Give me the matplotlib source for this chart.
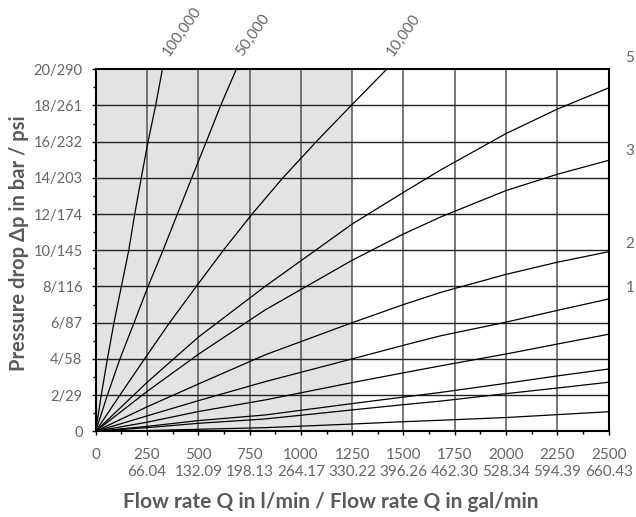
import numpy as np
import matplotlib
matplotlib.use("Agg")
import matplotlib.pyplot as plt
from matplotlib.ticker import MultipleLocator

plt.rcParams['font.family'] = ['Lato', 'DejaVu Sans']

# Curves: flow rate Q (l/min) vs pressure drop (bar)
q_100k = [0, 27, 57, 89, 125, 161, 190, 222, 255, 292, 325]
dp_100k = [0, 2, 4, 6, 8, 10, 12, 14, 16, 18, 20]
q_50k = [0, 57, 118, 187, 255, 328, 398, 468, 539, 609, 685]
dp_50k = [0, 2, 4, 6, 8, 10, 12, 14, 16, 18, 20]
q_10k = [0, 118, 238, 360, 490, 622, 762, 912, 1075, 1245, 1418]
dp_10k = [0, 2, 4, 6, 8, 10, 12, 14, 16, 18, 20]

q_std = [0, 250, 500, 825, 1250, 1500, 1683, 2000, 2250, 2500]
dp_5 = [0, 2.7, 5.2, 8.0, 11.45, 13.2, 14.45, 16.45, 17.8, 18.97]
dp_3 = [0, 2.2, 4.25, 6.70, 9.45, 10.9, 11.85, 13.3, 14.2, 14.97]
dp_2 = [0, 1.35, 2.61, 4.22, 6.0, 7.0, 7.68, 8.67, 9.34, 9.92]
dp_1 = [0, 0.85, 1.69, 2.74, 4.0, 4.75, 5.28, 6.03, 6.68, 7.31]
dp_h = [0, 0.5, 1.09, 1.73, 2.69, 3.23, 3.62, 4.27, 4.82, 5.36]
dp_i = [0, 0.27, 0.59, 0.90, 1.53, 1.89, 2.15, 2.65, 3.06, 3.44]
dp_j = [0, 0.2, 0.44, 0.68, 1.18, 1.47, 1.67, 2.08, 2.39, 2.71]
dp_k = [0, 0.04, 0.11, 0.20, 0.40, 0.53, 0.61, 0.76, 0.92, 1.08]

top_labels = ['100,000', '50,000', '10,000']
right_labels = ['5', '3', '2', '1']
right_label_y = [20.6, 15.5, 10.35, 7.9]

x_ticks = [0, 250, 500, 750, 1000, 1250, 1500, 1750, 2000, 2250, 2500]
x_gal = ['', '66.04', '132.09', '198.13', '264.17', '330.22', '396.26',
         '462.30', '528.34', '594.39', '660.43']
y_ticks = [0, 2, 4, 6, 8, 10, 12, 14, 16, 18, 20]
y_labels = ['0', '2/29', '4/58', '6/87', '8/116', '10/145', '12/174',
            '14/203', '16/232', '18/261', '20/290']

grey = '#666666'

fig = plt.figure(figsize=(6.36, 5.17), dpi=100)
ax = fig.add_axes([0.1505, 0.1658, 0.8065, 0.7002])

ax.axvspan(0, 1250, color='#e3e3e3', zorder=0, lw=0)
for x in x_ticks[1:-1]:
    ax.axvline(x, color='#555555', lw=1.1, zorder=1)
for y in y_ticks[1:-1]:
    ax.axhline(y, color='#222222', lw=1.0, zorder=1)

ax.plot(q_100k, dp_100k, color='black', lw=0.9, zorder=2)
ax.plot(q_50k, dp_50k, color='black', lw=0.9, zorder=2)
ax.plot(q_10k, dp_10k, color='black', lw=0.9, zorder=2)
for dp in [dp_5, dp_3, dp_2, dp_1, dp_h, dp_i, dp_j, dp_k]:
    ax.plot(q_std, dp, color='black', lw=0.9, zorder=2)

for lab, q in zip(top_labels, [q_100k[-1], q_50k[-1], q_10k[-1]]):
    ax.annotate(lab, xy=(q, 20), xytext=(6.5, 8), textcoords='offset points',
                rotation=55, rotation_mode='anchor', ha='left', va='bottom',
                fontsize=11, color=grey, annotation_clip=False)

for lab, y in zip(right_labels, right_label_y):
    ax.text(2604, y, lab, ha='center', va='center', fontsize=11,
            color=grey, clip_on=False)

ax.set_xlim(0, 2500)
ax.set_ylim(0, 20)
ax.set_xticks(x_ticks)
ax.set_xticklabels([a if not b else f'{a}\n{b}' for a, b in
                    zip([str(v) for v in x_ticks], x_gal)], linespacing=1.3)
ax.set_yticks(y_ticks)
ax.set_yticklabels(y_labels)
ax.xaxis.set_minor_locator(MultipleLocator(125))
ax.yaxis.set_minor_locator(MultipleLocator(1))
ax.tick_params(axis='both', which='major', direction='out', length=3,
               width=1, color='black', labelsize=11, labelcolor=grey)
ax.tick_params(axis='y', which='major', labelsize=10.5, pad=6.5)
ax.tick_params(axis='x', which='major', pad=9)
ax.tick_params(axis='both', which='minor', direction='out', length=2,
               width=1, color='black')
for s in ax.spines.values():
    s.set_linewidth(1.5)
    s.set_color('black')
    s.set_zorder(3)

fig.text(331 / 636, 1 - 502 / 517,
         'Flow rate Q in l/min / Flow rate Q in gal/min',
         ha='center', va='center', fontsize=15, fontweight='bold', color='#5a5a5a')
fig.text(19 / 636, 1 - 243 / 517, 'Pressure drop \u0394p in bar / psi',
         ha='center', va='center', rotation=90, fontsize=14.5,
         fontweight='bold', color='#5a5a5a')

fig.savefig('out.png', dpi=100)
